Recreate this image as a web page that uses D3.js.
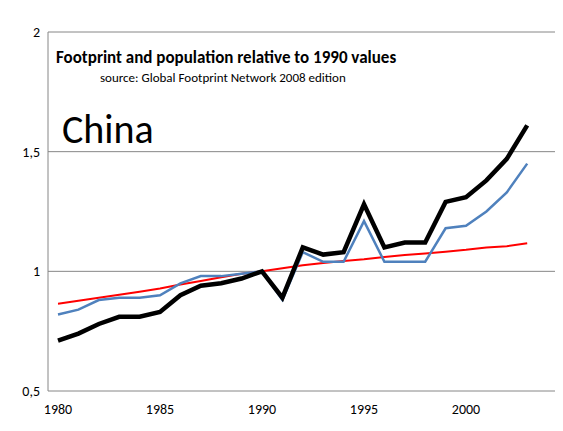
<!DOCTYPE html><html><head><script src="https://cdn.jsdelivr.net/npm/d3@7"></script>
<style>body{margin:0;background:#fff}</style></head><body><svg id="c" width="563" height="431"></svg>
<script>
const years=d3.range(1980,2004);
const footprint=[.71,.74,.78,.81,.81,.83,.90,.94,.95,.97,1.0,.89,1.10,1.07,1.08,1.28,1.10,1.12,1.12,1.29,1.31,1.38,1.47,1.61];
const perCapita=[.82,.84,.88,.89,.89,.90,.95,.98,.98,.99,1.0,.88,1.08,1.04,1.04,1.21,1.04,1.04,1.04,1.18,1.19,1.25,1.33,1.45];
const population=[.865,.877,.89,.902,.915,.928,.945,.96,.975,.99,1.0,1.013,1.025,1.035,1.043,1.05,1.06,1.068,1.075,1.082,1.09,1.1,1.105,1.117];
const yTicks=[0.5,1,1.5,2];
const xTicks=[1980,1985,1990,1995,2000];
const svg=d3.select("#c");
const x=d3.scaleLinear().domain([1980,2000]).range([58,466]);
const y=d3.scaleLinear().domain([0.5,2]).range([391,32]);
const f="Calibri,Carlito,'Liberation Sans',sans-serif";
svg.selectAll("line.g").data(yTicks.slice(1)).join("line").attr("x1",48).attr("x2",555).attr("y1",d=>y(d)).attr("y2",d=>y(d)).attr("stroke","#868686");
svg.append("line").attr("x1",48).attr("x2",48).attr("y1",32).attr("y2",391).attr("stroke","#868686");
svg.append("line").attr("x1",48).attr("x2",555).attr("y1",391).attr("y2",391).attr("stroke","#868686");
svg.selectAll("text.y").data(yTicks).join("text").attr("x",40).attr("y",d=>y(d)+5).attr("text-anchor","end").attr("font-family",f).attr("font-size",14).text(d=>String(d).replace(".",","));
svg.selectAll("text.x").data(xTicks).join("text").attr("x",d=>x(d)).attr("y",414).attr("text-anchor","middle").attr("font-family",f).attr("font-size",14).text(d=>d);
const line=d3.line().x((d,i)=>x(years[i])).y(d=>y(d));
svg.append("path").attr("d",line(population)).attr("fill","none").attr("stroke","#ff0000").attr("stroke-width",2);
svg.append("path").attr("d",line(perCapita)).attr("fill","none").attr("stroke","#4f81bd").attr("stroke-width",2.5);
svg.append("path").attr("d",line(footprint)).attr("fill","none").attr("stroke","#000").attr("stroke-width",4.5);
svg.append("text").attr("x",56).attr("y",63).attr("font-family",f).attr("font-weight","bold").attr("font-size",17).text("Footprint and population relative to 1990 values");
svg.append("text").attr("x",100).attr("y",82).attr("font-family",f).attr("font-size",13).text("source: Global Footprint Network 2008 edition");
svg.append("text").attr("x",62).attr("y",143).attr("font-family",f).attr("font-size",40).text("China");
</script></body></html>
